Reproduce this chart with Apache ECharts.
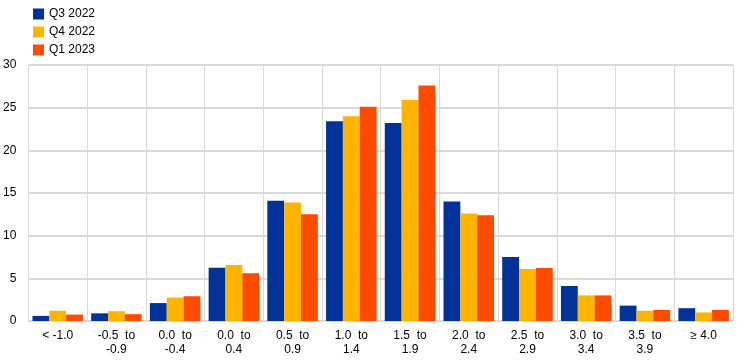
<!DOCTYPE html>
<html><head><meta charset="utf-8">
<script src="https://cdn.jsdelivr.net/npm/echarts@6/dist/echarts.min.js"></script>
<style>html,body{margin:0;padding:0;background:#fff}#c{width:744px;height:363px}</style>
</head><body><div id="c"></div>
<script>
var categories = ['< -1.0', '-0.5  to\n-0.9', '0.0  to\n-0.4', '0.0  to\n0.4', '0.5  to\n0.9', '1.0  to\n1.4', '1.5  to\n1.9', '2.0  to\n2.4', '2.5  to\n2.9', '3.0  to\n3.4', '3.5  to\n3.9', '\u2265 4.0'];
var q3_2022 = [0.6, 0.9, 2.1, 6.25, 14.1, 23.4, 23.2, 14.0, 7.5, 4.1, 1.8, 1.5];
var q4_2022 = [1.2, 1.15, 2.75, 6.55, 13.9, 24.0, 25.9, 12.6, 6.1, 3.0, 1.2, 1.0];
var q1_2023 = [0.75, 0.8, 2.9, 5.6, 12.5, 25.1, 27.6, 12.4, 6.2, 3.0, 1.3, 1.3];
var seriesNames = ['Q3 2022', 'Q4 2022', 'Q1 2023'];
var colors = ['#003299', '#FFB400', '#FF4B00'];

var chart = echarts.init(document.getElementById('c'));
var data = [q3_2022, q4_2022, q1_2023];
chart.setOption({
  animation: false,
  textStyle: {fontFamily: 'Liberation Sans, Arial, sans-serif'},
  legend: {
    orient: 'vertical', left: 28, top: 3, itemWidth: 11, itemHeight: 11, itemGap: 6,
    icon: 'rect',
    textStyle: {fontSize: 12, color: '#000'},
    data: seriesNames
  },
  grid: {left: 28, right: 11, top: 65, bottom: 42},
  xAxis: {
    type: 'category', data: categories,
    axisLine: {lineStyle: {color: '#d9d9d9'}},
    axisTick: {show: false},
    splitLine: {show: true, lineStyle: {color: '#d9d9d9', width: 1}},
    axisLabel: {color: '#000', fontSize: 12, interval: 0, margin: 8, lineHeight: 14}
  },
  yAxis: {
    type: 'value', min: 0, max: 30, interval: 5,
    axisLine: {show: false}, axisTick: {show: false},
    splitLine: {lineStyle: {color: '#d9d9d9', width: 2}},
    axisLabel: {color: '#000', fontSize: 12, margin: 12}
  },
  series: data.map(function (d, i) {
    return {name: seriesNames[i], type: 'bar', data: d, barGap: '0%', barCategoryGap: '14%',
      itemStyle: {color: colors[i]}};
  })
});
</script></body></html>
